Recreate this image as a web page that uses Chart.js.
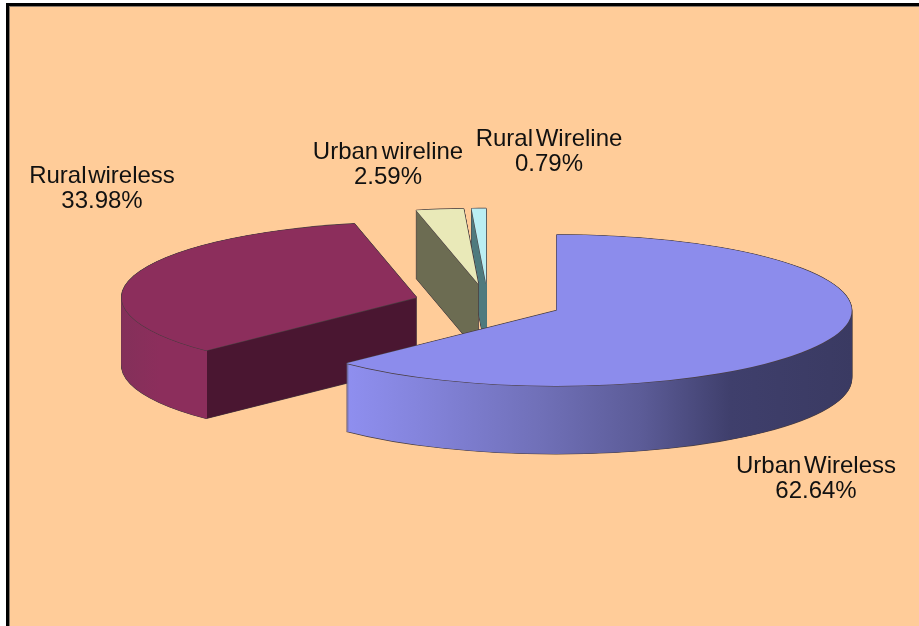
<!DOCTYPE html>
<html>
<head>
<meta charset="utf-8">
<script src="https://cdn.jsdelivr.net/npm/chart.js@4/dist/chart.umd.min.js"></script>
<style>
html,body{margin:0;padding:0;background:#fff;overflow:hidden}
canvas{display:block}
</style>
</head>
<body>
<canvas id="c" width="919" height="626"></canvas>
<script>
const categories = ["Urban Wireless", "Rural wireless", "Urban wireline", "Rural Wireline"];
const shares = [62.64, 33.98, 2.59, 0.79];
const topColors = ["#8C8CEC", "#8C2E5C", "#E9E9B8", "#BAEEF3"];

const sideStops = [
  [[345, "#8F8FF0"], [420, "#8484DC"], [540, "#7070B8"], [640, "#5C5C98"], [730, "#3F3F6C"], [854, "#3A3A62"]],
  [[122, "#84305A"], [160, "#8C2E5C"], [206.5, "#8C2E5C"], [207, "#4A1631"], [420, "#4A1631"]],
  [[0, "#6C6C52"], [919, "#6C6C52"]],
  [[0, "#4F7A7E"], [919, "#4F7A7E"]]
];

const labelAnchors = [[816, 466], [102, 176], [388, 152], [549, 139]];
const labelWordSpacing = ["-4px", "-5px", "-3px", "-4px"];

const squash = 0.256;
const explode = 74.5;
const depth = 68;
const edgeColor = "#4a3e40";
const W = 919, H = 626;

const pie3d = {
  id: "pie3d",
  beforeDraw(chart) {
    const ctx = chart.ctx;
    ctx.save();
    ctx.fillStyle = "#ffffff";
    ctx.fillRect(0, 0, W, H);
    ctx.fillStyle = "#000000";
    ctx.fillRect(6, 3, W - 6, H - 3);
    ctx.fillStyle = "#8a7a6a";
    ctx.fillRect(9, 6, W - 9, H - 6);
    ctx.fillStyle = "#FFCC99";
    ctx.fillRect(10, 7, W - 10, H - 7);
    ctx.restore();
  },
  beforeDatasetDraw(chart, args) {
    const ctx = chart.ctx;
    const arcs = chart.getDatasetMeta(args.index).data;

    const layer = (arc, dx, dy, fill) => {
      const mid = (arc.startAngle + arc.endAngle) / 2;
      const clone = Object.create(arc);
      clone.options = {
        backgroundColor: fill, borderColor: "transparent", borderWidth: 0,
        borderAlign: "center", offset: 0, spacing: 0, borderRadius: 0, circular: true
      };
      ctx.save();
      ctx.translate(arc.x + dx, arc.y + dy);
      ctx.scale(1, squash);
      ctx.translate(Math.cos(mid) * explode - arc.x, Math.sin(mid) * explode - arc.y);
      clone.draw(ctx);
      ctx.restore();
    };

    const gradientFor = (arc, stops) => {
      // Filled under the slice's own transform, so the gradient is given in slice space.
      const mid = (arc.startAngle + arc.endAngle) / 2;
      const shift = Math.cos(mid) * explode;
      const g = ctx.createLinearGradient(-shift, 0, W - shift, 0);
      stops.forEach(s => g.addColorStop(s[0] / W, s[1]));
      return g;
    };

    for (let n = arcs.length - 1; n >= 0; n--) {
      const arc = arcs[n];
      const side = gradientFor(arc, sideStops[n]);
      for (let d = depth; d >= 0; d--) {
        layer(arc, -0.6, d, edgeColor);
        layer(arc, 0.6, d, edgeColor);
      }
      layer(arc, 0, depth + 0.6, edgeColor);
      for (let d = depth; d >= 1; d--) layer(arc, 0, d, side);
      layer(arc, 0, -0.6, edgeColor);
      layer(arc, 0, 0.6, edgeColor);
      layer(arc, -0.5, 0, edgeColor);
      layer(arc, 0.5, 0, edgeColor);
      layer(arc, 0, 0, topColors[n]);
    }
    return false;
  },
  afterDatasetsDraw(chart) {
    const ctx = chart.ctx;
    ctx.save();
    ctx.fillStyle = "#111111";
    ctx.font = '24px "Liberation Sans", Arial, sans-serif';
    ctx.textAlign = "center";
    ctx.textBaseline = "middle";
    categories.forEach((name, i) => {
      const [x, y] = labelAnchors[i];
      ctx.wordSpacing = labelWordSpacing[i];
      ctx.fillText(name, x, y);
      ctx.wordSpacing = "0px";
      ctx.fillText(shares[i].toFixed(2) + "%", x, y + 25);
    });
    ctx.restore();
  }
};

new Chart(document.getElementById("c"), {
  type: "pie",
  data: {
    labels: categories,
    datasets: [{ data: shares, backgroundColor: topColors, borderWidth: 0 }]
  },
  options: {
    responsive: false,
    animation: false,
    radius: 295,
    layout: { padding: { left: 57, bottom: 20, top: 0, right: 0 } },
    plugins: { legend: { display: false }, tooltip: { enabled: false } }
  },
  plugins: [pie3d]
});
</script>
</body>
</html>
